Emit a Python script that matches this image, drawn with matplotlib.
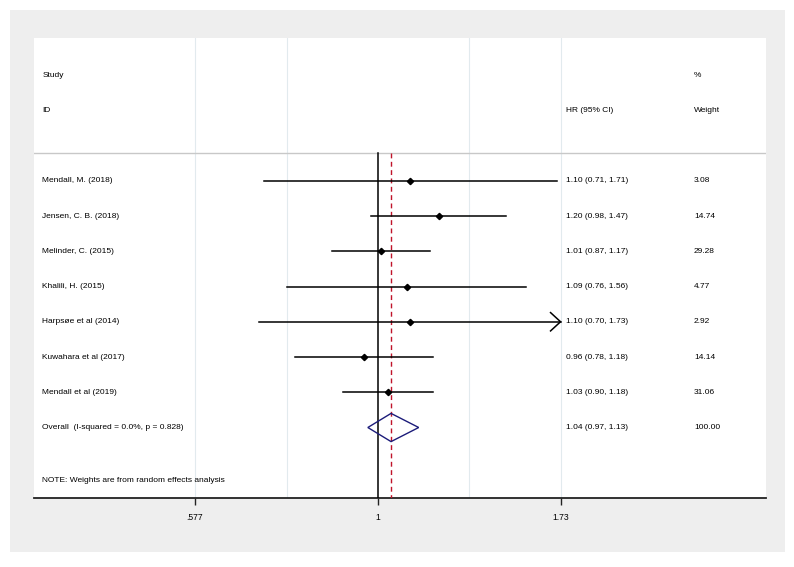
import matplotlib
matplotlib.use('Agg')
import matplotlib.pyplot as plt
from matplotlib.patches import Rectangle, Polygon
import numpy as np

plt.rcParams['font.family'] = ['Liberation Sans', 'DejaVu Sans']

# study level results (hazard ratios with 95% CI) and random effects weights
studies = ['Mendall, M. (2018)', 'Jensen, C. B. (2018)', 'Melinder, C. (2015)',
           'Khalili, H. (2015)', 'Harpsøe et al (2014)', 'Kuwahara et al (2017)',
           'Mendall et al (2019)']
hr = [1.10, 1.20, 1.01, 1.09, 1.10, 0.96, 1.03]
lo = [0.71, 0.98, 0.87, 0.76, 0.70, 0.78, 0.90]
hi = [1.71, 1.47, 1.17, 1.56, 1.73, 1.18, 1.18]
weights = [3.08, 14.74, 29.28, 4.77, 2.92, 14.14, 31.06]

overall_label = 'Overall  (I-squared = 0.0%, p = 0.828)'
overall = [1.04, 0.97, 1.13]
overall_weight = 100.00

tick_vals = [0.577, 1, 1.73]
tick_labels = ['.577', '1', '1.73']
grid_vals = [0.577, 0.76, 1.316, 1.73]

W, H = 794, 567
fig = plt.figure(figsize=(W / 100, H / 100), dpi=100)
fig.patch.set_facecolor('white')
# outer grey graph region
fig.patches.append(Rectangle((10 / W, 1 - 552 / H), 775 / W, 542 / H,
                             transform=fig.transFigure, facecolor='#eeeeee',
                             edgecolor='none', zorder=-5))

ax = fig.add_axes([34 / W, 1 - 498 / H, (766 - 34) / W, (498 - 38) / H])
ax.set_zorder(2)
ax.set_facecolor('white')
ax.set_xscale('log')
ax.set_xlim(0.356, 3.206)
ax.set_ylim(9.0, -4.05)

for s in ['top', 'left', 'right']:
    ax.spines[s].set_visible(False)
ax.spines['bottom'].set_linewidth(1.3)
ax.spines['bottom'].set_color('#222222')
ax.set_yticks([])
ax.set_xticks(tick_vals)
ax.set_xticklabels(tick_labels)
ax.xaxis.set_minor_locator(matplotlib.ticker.NullLocator())
ax.tick_params(axis='x', length=5, width=1, color='#222222', labelsize=6.2, pad=6)

fs = 6.0
sep_y = -0.8

# light vertical grid
for g in grid_vals:
    ax.axvline(g, color='#e2eaee', lw=0.8, zorder=1)

# header separator
ax.axhline(sep_y, color='#c8c8c8', lw=1.0, zorder=2)

# null line and overall estimate line
ax.plot([1, 1], [sep_y, 9.0], color='black', lw=1.1, zorder=3)
ax.plot([overall[0], overall[0]], [sep_y, 9.0], color='#c0142a', lw=1.0,
        ls=(0, (3.5, 2.5)), zorder=3)

# headers
col_study = 0.365
col_hr = 1.759
col_w = 2.583
ax.text(col_study, -3.0, 'Study', fontsize=fs, va='center')
ax.text(col_study, -2.0, 'ID', fontsize=fs, va='center')
ax.text(col_hr, -2.0, 'HR (95% CI)', fontsize=fs, va='center')
ax.text(col_w, -3.0, '%', fontsize=fs, va='center')
ax.text(col_w, -2.0, 'Weight', fontsize=fs, va='center')

xmax_plot = max(tick_vals)
for i, name in enumerate(studies):
    ax.text(col_study, i, name, fontsize=fs, va='center')
    ax.text(col_hr, i, f'{hr[i]:.2f} ({lo[i]:.2f}, {hi[i]:.2f})', fontsize=fs, va='center')
    ax.text(col_w, i, f'{weights[i]:.2f}', fontsize=fs, va='center')
    right = min(hi[i], xmax_plot)
    ax.plot([lo[i], right], [i, i], color='black', lw=1.1, zorder=4)
    if hi[i] >= xmax_plot:
        k = np.exp(-0.03)
        ax.plot([right * k, right, right * k], [i - 0.26, i, i + 0.26],
                color='black', lw=1.1, zorder=4)
    ax.plot(hr[i], i, marker='D', ms=3.2, color='black', zorder=5)

# overall diamond
oy = len(studies)
ax.add_patch(Polygon([(overall[1], oy), (overall[0], oy - 0.4),
                      (overall[2], oy), (overall[0], oy + 0.4)],
                     closed=True, fill=False, edgecolor='#1c1c7a', lw=1.0, zorder=5))
ax.text(col_study, oy, overall_label, fontsize=fs, va='center')
ax.text(col_hr, oy, f'{overall[0]:.2f} ({overall[1]:.2f}, {overall[2]:.2f})',
        fontsize=fs, va='center')
ax.text(col_w, oy, f'{overall_weight:.2f}', fontsize=fs, va='center')

ax.text(col_study, 8.5, 'NOTE: Weights are from random effects analysis', fontsize=fs, va='center')

fig.savefig('out.png', dpi=100)
